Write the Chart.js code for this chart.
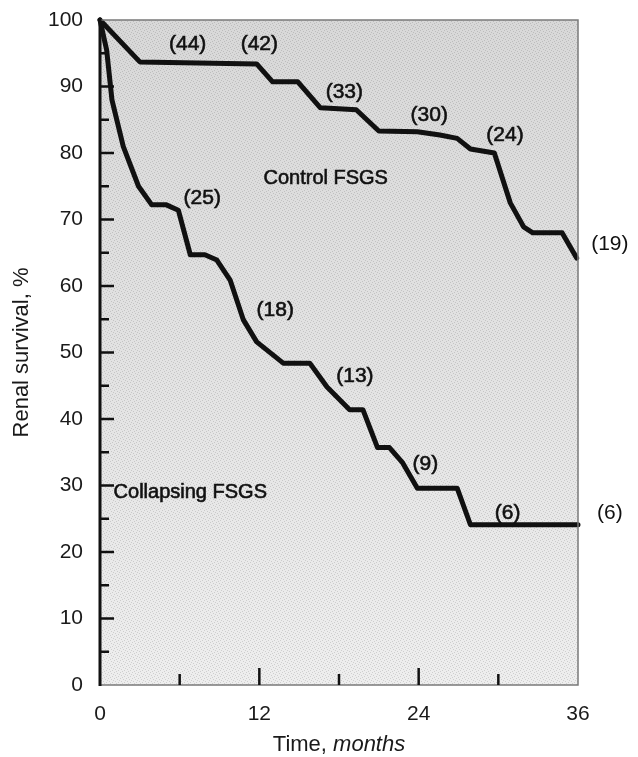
<!DOCTYPE html>
<html>
<head>
<meta charset="utf-8">
<script src="https://cdn.jsdelivr.net/npm/chart.js@4.4.1/dist/chart.umd.min.js"></script>
<style>
    html, body { margin: 0; padding: 0; background: #fff; }
    #wrap { width: 638px; height: 757px; }
</style>
</head>
<body>
<div id="wrap"><canvas id="survivalChart" width="638" height="757"></canvas></div>
<script>
// Dados (meses, sobrevida renal %)
const controlMonths = [0, 3, 11.8, 13, 14.9, 16.6, 19.3, 21, 23.9, 25.6, 26.9, 27.9, 29.7, 30.9, 31.9, 32.6, 34.8, 35.9];
const controlSurvival = [100, 93.7, 93.4, 90.7, 90.7, 86.8, 86.5, 83.3, 83.2, 82.7, 82.2, 80.6, 80, 72.5, 68.9, 68, 68, 64.2];

const collapsingMonths = [0, 0.5, 0.9, 1.75, 2.9, 3.9, 5, 5.9, 6.8, 7.9, 8.8, 9.8, 10.8, 11.8, 13.8, 15.8, 17.1, 18.8, 19.8, 20.9, 21.8, 22.8, 23.9, 26.9, 27.9, 36];
const collapsingSurvival = [100, 95.5, 88, 81, 75, 72.2, 72.2, 71.4, 64.7, 64.7, 63.9, 60.9, 54.9, 51.6, 48.4, 48.4, 44.8, 41.4, 41.4, 35.7, 35.7, 33.4, 29.6, 29.6, 24.1, 24.1];

// Pacientes em risco
const controlAtRisk = ['(44)', '(42)', '(33)', '(30)', '(24)', '(19)'];
const collapsingAtRisk = ['(25)', '(18)', '(13)', '(9)', '(6)', '(6)'];

const xTickLabels = [0, 12, 24, 36];
const groupNames = ['Control FSGS', 'Collapsing FSGS'];

// Onde cada rótulo fica (em unidades dos eixos)
const controlLabelPos = [[6.6, 96.4], [12.0, 96.4], [18.4, 89.2], [24.8, 85.7], [30.5, 82.7], [38.4, 66.3]];
const collapsingLabelPos = [[7.7, 73.2], [13.2, 56.4], [19.2, 46.5], [24.5, 33.2], [30.7, 25.9], [38.4, 25.9]];
const groupNamePos = [[17.0, 76.2], [6.8, 28.9]];

const FONT = '"Liberation Sans", Arial, Helvetica, sans-serif';
const TEXT_COLOR = '#1a1a1a';

function toPoints(xs, ys) {
    return xs.map((x, i) => ({ x: x, y: ys[i] }));
}

// Fundo cinza pontilhado
const fundoPlugin = {
    id: 'fundo',
    beforeDraw(chart) {
        const { ctx, chartArea: a } = chart;
        ctx.save();
        const grad = ctx.createLinearGradient(0, a.top, 0, a.bottom);
        grad.addColorStop(0, '#d8d8d8');
        grad.addColorStop(0.5, '#e2e2e2');
        grad.addColorStop(1, '#eeeeee');
        ctx.fillStyle = grad;
        ctx.fillRect(a.left, a.top, a.right - a.left, a.bottom - a.top);

        // textura de retícula
        const pc = document.createElement('canvas');
        pc.width = 6; pc.height = 6;
        const p = pc.getContext('2d');
        p.fillStyle = 'rgba(0,0,0,0.13)';
        [[0, 0], [3, 1], [1, 3], [4, 4], [2, 5], [5, 2]].forEach(([x, y]) => p.fillRect(x, y, 1, 1));
        ctx.fillStyle = ctx.createPattern(pc, 'repeat');
        ctx.fillRect(a.left, a.top, a.right - a.left, a.bottom - a.top);
        ctx.restore();
    }
};

function textoForte(ctx, t, x, y) {
    ctx.fillText(t, x, y);
    ctx.strokeText(t, x, y);
}

// Moldura, marcas internas dos eixos e textos
const anotacoesPlugin = {
    id: 'anotacoes',
    afterDraw(chart) {
        const { ctx, chartArea: a, scales } = chart;
        const xs = scales.x, ys = scales.y;
        ctx.save();

        // moldura fina
        ctx.strokeStyle = '#7a7a7a';
        ctx.lineWidth = 1.5;
        ctx.beginPath();
        ctx.moveTo(a.left, a.top);
        ctx.lineTo(a.right, a.top);
        ctx.lineTo(a.right, a.bottom);
        ctx.lineTo(a.left, a.bottom);
        ctx.stroke();

        // eixo y grosso
        ctx.strokeStyle = '#111';
        ctx.lineWidth = 3;
        ctx.beginPath();
        ctx.moveTo(a.left, a.top - 1);
        ctx.lineTo(a.left, a.bottom + 1);
        ctx.stroke();

        // marcas do eixo y
        ctx.lineWidth = 2.5;
        for (let v = 0; v <= 100; v += 5) {
            if (v === 0 || v === 100) continue;
            const y = ys.getPixelForValue(v);
            const len = v % 10 === 0 ? 14 : 9;
            ctx.beginPath();
            ctx.moveTo(a.left, y);
            ctx.lineTo(a.left + len, y);
            ctx.stroke();
        }

        // marcas do eixo x
        for (let m = 6; m < 36; m += 6) {
            const x = xs.getPixelForValue(m);
            const len = m % 12 === 0 ? 17 : 11;
            ctx.beginPath();
            ctx.moveTo(x, a.bottom);
            ctx.lineTo(x, a.bottom - len);
            ctx.stroke();
        }

        // números em risco
        ctx.fillStyle = '#111';
        ctx.strokeStyle = '#111';
        ctx.lineWidth = 0.6;
        ctx.font = '21px ' + FONT;
        ctx.textAlign = 'center';
        ctx.textBaseline = 'middle';
        controlAtRisk.forEach((t, i) => {
            const [mx, my] = controlLabelPos[i];
            const forte = i < 5;
            if (forte) textoForte(ctx, t, xs.getPixelForValue(mx), ys.getPixelForValue(my));
            else ctx.fillText(t, xs.getPixelForValue(mx), ys.getPixelForValue(my));
        });
        collapsingAtRisk.forEach((t, i) => {
            const [mx, my] = collapsingLabelPos[i];
            const forte = i < 5;
            if (forte) textoForte(ctx, t, xs.getPixelForValue(mx), ys.getPixelForValue(my));
            else ctx.fillText(t, xs.getPixelForValue(mx), ys.getPixelForValue(my));
        });
        ctx.font = '20px ' + FONT;
        groupNames.forEach((t, i) => {
            const [mx, my] = groupNamePos[i];
            textoForte(ctx, t, xs.getPixelForValue(mx), ys.getPixelForValue(my));
        });

        // título do eixo x com "months" em itálico
        ctx.fillStyle = TEXT_COLOR;
        const parte1 = 'Time, ';
        const parte2 = 'months';
        ctx.font = '22px ' + FONT;
        const w1 = ctx.measureText(parte1).width;
        ctx.font = 'italic 22px ' + FONT;
        const w2 = ctx.measureText(parte2).width;
        const cx = (a.left + a.right) / 2;
        const ty = a.bottom + 60;
        ctx.textAlign = 'left';
        ctx.font = '22px ' + FONT;
        ctx.fillText(parte1, cx - (w1 + w2) / 2, ty);
        ctx.font = 'italic 22px ' + FONT;
        ctx.fillText(parte2, cx - (w1 + w2) / 2 + w1, ty);

        ctx.restore();
    }
};

const ctx = document.getElementById('survivalChart').getContext('2d');

const chartSobrevida = new Chart(ctx, {
    type: 'line',
    data: {
        datasets: [
            {
                label: 'Control FSGS',
                data: toPoints(controlMonths, controlSurvival),
                borderColor: '#111',
                borderWidth: 5,
                borderJoinStyle: 'round',
                borderCapStyle: 'round',
                pointRadius: 0,
                fill: false,
                tension: 0,
                clip: false
            },
            {
                label: 'Collapsing FSGS',
                data: toPoints(collapsingMonths, collapsingSurvival),
                borderColor: '#111',
                borderWidth: 5,
                borderJoinStyle: 'round',
                borderCapStyle: 'round',
                pointRadius: 0,
                fill: false,
                tension: 0,
                clip: false
            }
        ]
    },
    options: {
        responsive: false,
        animation: false,
        devicePixelRatio: 1,
        layout: {
            padding: { left: 0, right: 60, top: 20, bottom: 0 }
        },
        plugins: {
            legend: { display: false },
            tooltip: { enabled: false }
        },
        scales: {
            x: {
                type: 'linear',
                min: 0,
                max: 36,
                border: { display: false },
                grid: { display: false, drawTicks: false },
                afterFit(scale) {
                    scale.height = 72;
                    scale.paddingLeft = 0;
                    scale.paddingRight = 0;
                },
                afterBuildTicks(scale) {
                    scale.ticks = xTickLabels.map(v => ({ value: v }));
                },
                ticks: {
                    color: TEXT_COLOR,
                    padding: 17,
                    font: { family: FONT, size: 21 }
                }
            },
            y: {
                min: 0,
                max: 100,
                border: { display: false },
                grid: { display: false, drawTicks: false },
                afterFit(scale) {
                    scale.width = 100;
                    scale.paddingTop = 0;
                    scale.paddingBottom = 0;
                },
                ticks: {
                    stepSize: 10,
                    color: TEXT_COLOR,
                    padding: 17,
                    font: { family: FONT, size: 21 }
                },
                title: {
                    display: true,
                    text: 'Renal survival, %',
                    color: TEXT_COLOR,
                    padding: { top: 9, bottom: 0 },
                    font: { family: FONT, size: 22 }
                }
            }
        }
    },
    plugins: [fundoPlugin, anotacoesPlugin]
});
</script>
</body>
</html>
